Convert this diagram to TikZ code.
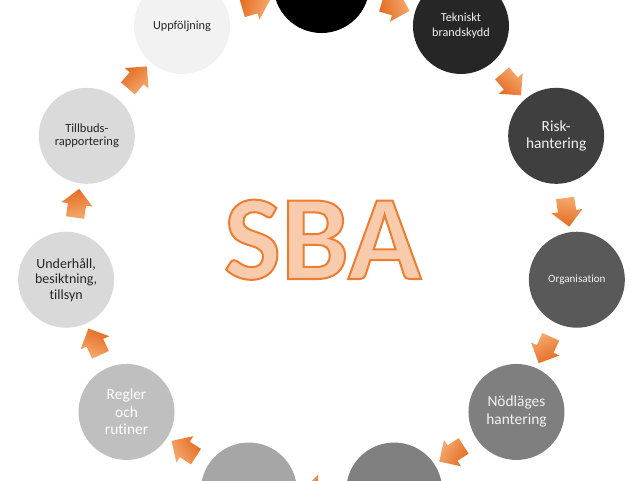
\documentclass[tikz,border=0pt]{standalone}
\usepackage{fontspec}
\setmainfont{Carlito}[Ligatures=NoCommon]
\usepackage{xcolor}
\usepackage{tikz}
\usetikzlibrary{calc, shapes.arrows}

\definecolor{g0}{HTML}{000000}
\definecolor{g1}{HTML}{262626}
\definecolor{g2}{HTML}{3F3F3F}
\definecolor{g3}{HTML}{595959}
\definecolor{g4}{HTML}{7F7F7F}
\definecolor{g5}{HTML}{808080}
\definecolor{g6}{HTML}{A6A6A6}
\definecolor{g7}{HTML}{BFBFBF}
\definecolor{g8}{HTML}{D9D9D9}
\definecolor{g9}{HTML}{DADADA}
\definecolor{g10}{HTML}{F2F2F2}
\definecolor{lighttxt}{HTML}{F2F2F2}
\definecolor{darktxt}{HTML}{262626}
\definecolor{arrowdark}{HTML}{E46C22}
\definecolor{arrowlight}{HTML}{F6AA70}
\definecolor{sbafill}{HTML}{F8CBAD}

% outlined letters: fill + stroke (text render mode 2)
\newcommand{\outlinetext}[1]{\special{pdf:literal direct 2 Tr 2 w 0.929 0.490 0.192 RG}#1\special{pdf:literal direct 0 Tr}}

\begin{document}
\begin{tikzpicture}[x=1pt, y=1pt,
    phase/.style={circle, minimum size=96pt, inner sep=0pt, align=center, text=lighttxt},
    flow/.style={single arrow, minimum height=29pt, minimum width=31pt,
        single arrow head extend=6.5pt, inner xsep=0pt, inner ysep=9pt}]
    % --- VÒNG TRÒN CÁC BƯỚC ---
    \def\R{258}
    \def\nst{11}
    \useasboundingbox (-321.5,-237) rectangle (318.5,243);

    % Các hình tròn, theo chiều kim đồng hồ
    \node[phase, fill=g0] (s0) at (90:\R) {};
    \node[phase, fill=g1, font=\fontsize{12.2}{15}\selectfont] (s1) at (90-1*360/\nst:\R) {Tekniskt\\brandskydd};
    \node[phase, fill=g2, font=\fontsize{15.4}{17}\selectfont] (s2) at (90-2*360/\nst:\R) {Risk-\\hantering};
    \node[phase, fill=g3, font=\fontsize{11.1}{13}\selectfont] (s3) at (90-3*360/\nst:\R) {Organisation};
    \node[phase, fill=g4, font=\fontsize{15.4}{18}\selectfont] (s4) at (90-4*360/\nst:\R) {Nödläges\\hantering};
    \node[phase, fill=g5] (s5) at (90-5*360/\nst:\R) {};
    \node[phase, fill=g6] (s6) at (90-6*360/\nst:\R) {};
    \node[phase, fill=g7, text=white, font=\fontsize{15.4}{17.5}\selectfont] (s7) at (90-7*360/\nst:\R) {Regler\\och\\rutiner};
    \node[phase, fill=g8, text=darktxt, font=\fontsize{14}{15.5}\selectfont] (s8) at (90-8*360/\nst:\R) {Underhåll,\\besiktning,\\tillsyn};
    \node[phase, fill=g9, text=darktxt, font=\fontsize{12.5}{13.5}\selectfont] (s9) at (90-9*360/\nst:\R) {Tillbuds-\\rapportering};
    \node[phase, fill=g10, text=darktxt, font=\fontsize{12.3}{14}\selectfont] (s10) at (90-10*360/\nst:\R) {Uppföljning};

    % Mũi tên cam giữa hai hình tròn liên tiếp
    \foreach \k in {0,...,10}{
        \pgfmathtruncatemacro{\nxt}{mod(\k+1,\nst)}
        \pgfmathsetmacro{\rot}{-(\k+0.5)*360/\nst}
        \pgfmathsetmacro{\sha}{90-\rot}
        \node[flow, left color=arrowdark, right color=arrowlight, shading angle=\sha,
            rotate=\rot] (f\k) at ($(s\k)!0.5!(s\nxt)$) {};
    }

    % Chữ SBA ở giữa
    \node[anchor=base, font=\fontsize{121}{121}\bfseries] (sba) at (1,-36) {\color{sbafill}\outlinetext{SBA}};
\end{tikzpicture}
\end{document}
